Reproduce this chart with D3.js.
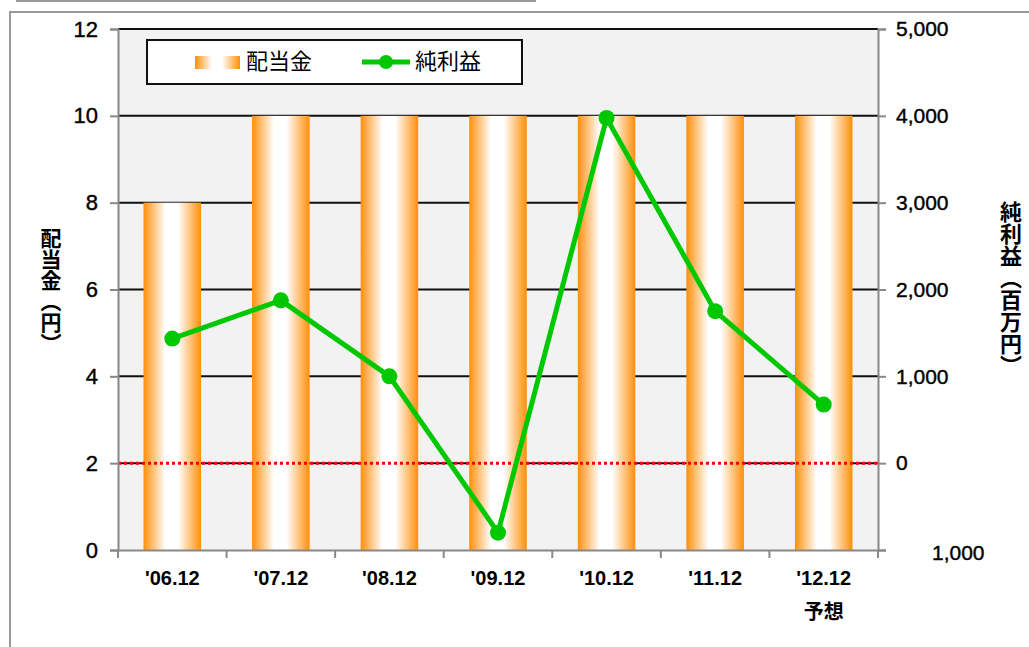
<!DOCTYPE html>
<meta charset="utf-8">
<head>
  <script src="https://cdn.jsdelivr.net/npm/d3@7"></script>
  <style>
    body { margin: 0; background: #fff; }
    text { font-family: "Liberation Sans", Arial, sans-serif; }
    .jp { font-family: "Noto Sans CJK JP", sans-serif; }
  </style>
</head>
<body>
<script type="text/javascript">

// データ
var years = ["'06.12", "'07.12", "'08.12", "'09.12", "'10.12", "'11.12", "'12.12"];
var haito = [8, 10, 10, 10, 10, 10, 10];          // 配当金（円）
var rieki = [1435, 1875, 1000, -800, 3975, 1750, 675]; // 純利益（百万円）
var leftTicks = [0, 2, 4, 6, 8, 10, 12];
var rightTicks = [-1000, 0, 1000, 2000, 3000, 4000, 5000];

var w = 1029, h = 647;
var pLeft = 118, pRight = 878, pTop = 29, pBottom = 550;

var svg = d3.select("body").append("svg")
    .attr("width", w)
    .attr("height", h);

// 外枠
svg.append("line").attr("x1", 16).attr("x2", 536).attr("y1", 1).attr("y2", 1)
  .attr("stroke", "#999").attr("stroke-width", 2);
svg.append("path").attr("d", "M10," + h + "V12H" + (w + 5))
  .attr("fill", "none").attr("stroke", "#999").attr("stroke-width", 2);

var x = d3.scaleBand().domain(years).range([pLeft, pRight]).paddingInner(0.47).paddingOuter(0.235);
var xb = d3.scaleBand().domain(years).range([pLeft, pRight]);
var yl = d3.scaleLinear().domain([0, 12]).range([pBottom, pTop]);
var yr = d3.scaleLinear().domain([-1000, 5000]).range([pBottom, pTop]);

svg.append("rect").attr("x", pLeft).attr("y", pTop)
  .attr("width", pRight - pLeft).attr("height", pBottom - pTop).attr("fill", "#f2f2f2");

// グラデーション
var grad = svg.append("defs").append("linearGradient").attr("id", "og")
  .attr("x1", "0%").attr("x2", "100%").attr("y1", "0%").attr("y2", "0%");
[[0, "#ff8f0a"], [0.38, "#ffffff"], [0.6, "#ffffff"], [1, "#ff8f0a"]].forEach(function(s){
  grad.append("stop").attr("offset", s[0]).attr("stop-color", s[1]);
});

// グリッド
svg.selectAll(".grid").data(leftTicks.filter(function(d){return d > 0;}))
  .enter().append("line")
  .attr("x1", pLeft).attr("x2", pRight)
  .attr("y1", function(d){return yl(d);}).attr("y2", function(d){return yl(d);})
  .attr("stroke", "#111").attr("stroke-width", 2);

// 棒
svg.selectAll(".bar").data(haito).enter().append("rect")
  .attr("x", function(d,i){return x(years[i]);})
  .attr("width", x.bandwidth())
  .attr("y", function(d){return yl(d);})
  .attr("height", function(d){return yl(0) - yl(d);})
  .attr("fill", "url(#og)");

// ゼロライン
svg.append("line").attr("x1", pLeft).attr("x2", pRight)
  .attr("y1", yr(0)).attr("y2", yr(0))
  .attr("stroke", "#ff0000").attr("stroke-width", 3).attr("stroke-dasharray", "3,3");

// 軸
var axisColor = "#888";
var gl = svg.append("g").attr("transform", "translate(" + pLeft + ",0)")
  .call(d3.axisLeft(yl).tickValues(leftTicks).tickSize(8).tickPadding(12));
var gr = svg.append("g").attr("transform", "translate(" + pRight + ",0)")
  .call(d3.axisRight(yr).tickValues(rightTicks).tickSize(8).tickPadding(10)
    .tickFormat(function(d){return d < 0 ? d3.format(",")(-d) : d3.format(",")(d);}));
var gb = svg.append("g").attr("transform", "translate(0," + pBottom + ")")
  .call(d3.axisBottom(xb).tickSize(0).tickPadding(21));

[gl, gr, gb].forEach(function(g){
  g.select(".domain").attr("stroke", axisColor).attr("stroke-width", 2);
  g.selectAll(".tick line").attr("stroke", axisColor).attr("stroke-width", 2);
  g.selectAll("text").attr("fill", "#000").style("font-size", "21px")
    .attr("stroke", "#000").attr("stroke-width", 0.4);
});
gl.selectAll("text").style("font-size", "22px");
gr.selectAll(".tick").filter(function(d){return d < 0;}).select("text").attr("x", 54).attr("dy", "0.45em");
gb.selectAll("text").style("font-size", "20px").style("font-weight", "bold").attr("stroke-width", 0);

// 区切り目盛り
svg.selectAll(".xt").data(years.concat(["end"])).enter().append("line")
  .attr("x1", function(d,i){return pLeft + i * xb.step();})
  .attr("x2", function(d,i){return pLeft + i * xb.step();})
  .attr("y1", pBottom).attr("y2", pBottom + 8)
  .attr("stroke", axisColor).attr("stroke-width", 2);

svg.append("text").attr("class", "jp")
  .attr("x", xb(years[6]) + xb.bandwidth() / 2).attr("y", 619)
  .attr("text-anchor", "middle").style("font-size", "20px").style("font-weight", "bold")
  .text("予想");

// 折れ線
var line = d3.line()
  .x(function(d,i){return xb(years[i]) + xb.bandwidth() / 2;})
  .y(function(d){return yr(d);});
svg.append("path").datum(rieki).attr("d", line)
  .attr("fill", "none").attr("stroke", "#00c800").attr("stroke-width", 5);
svg.selectAll(".pt").data(rieki).enter().append("circle")
  .attr("cx", function(d,i){return xb(years[i]) + xb.bandwidth() / 2;})
  .attr("cy", function(d){return yr(d);})
  .attr("r", 8).attr("fill", "#00c800");

// 軸タイトル（縦書き）
svg.append("text").attr("class", "jp")
  .attr("x", 51).attr("y", 228)
  .style("writing-mode", "vertical-rl")
  .style("font-size", "21px").style("font-weight", "bold")
  .text("配当金（円）");
svg.append("text").attr("class", "jp")
  .attr("x", 1011).attr("y", 201)
  .style("writing-mode", "vertical-rl")
  .style("font-size", "22px").style("font-weight", "bold")
  .text("純利益（百万円）");

// 凡例
var lg = svg.append("g");
lg.append("rect").attr("x", 147).attr("y", 40).attr("width", 375).attr("height", 44)
  .attr("fill", "#fff").attr("stroke", "#111").attr("stroke-width", 2);
lg.append("rect").attr("x", 195).attr("y", 56).attr("width", 45).attr("height", 13)
  .attr("fill", "url(#og)");
lg.append("text").attr("class", "jp").attr("x", 246).attr("y", 69)
  .style("font-size", "22px").text("配当金");
lg.append("line").attr("x1", 362).attr("x2", 410).attr("y1", 62).attr("y2", 62)
  .attr("stroke", "#00c800").attr("stroke-width", 5);
lg.append("circle").attr("cx", 386).attr("cy", 62).attr("r", 7).attr("fill", "#00c800");
lg.append("text").attr("class", "jp").attr("x", 415).attr("y", 69)
  .style("font-size", "22px").text("純利益");

</script>
</body>
